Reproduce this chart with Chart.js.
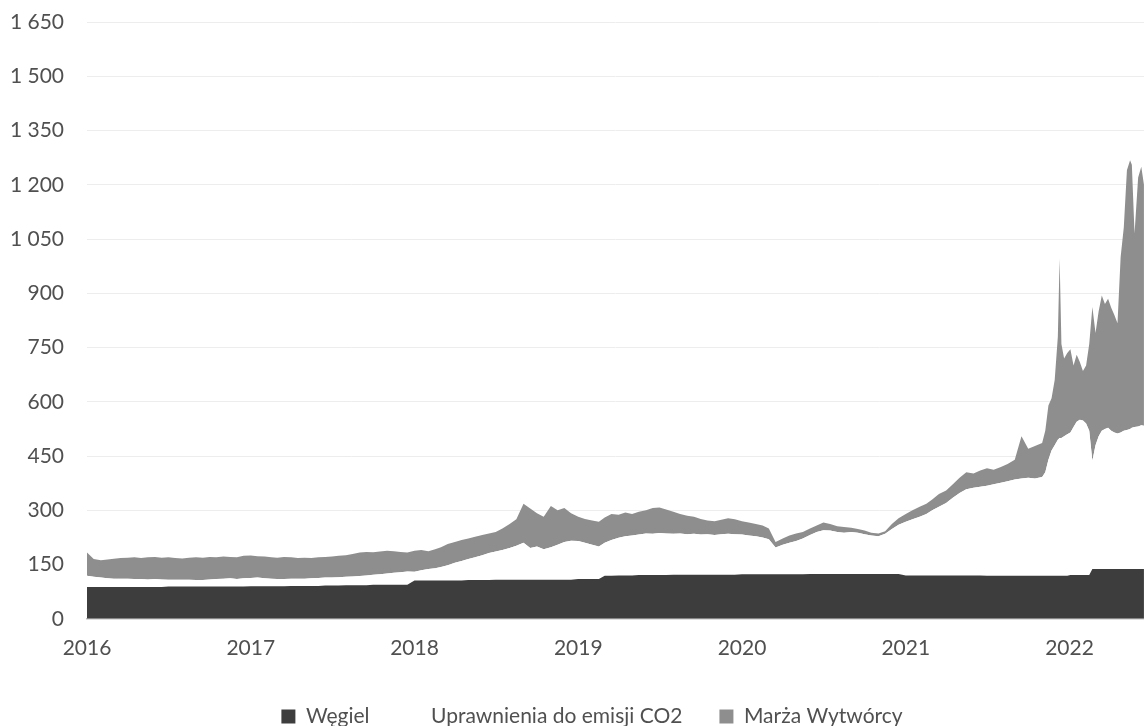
<!DOCTYPE html>
<html lang="pl">
<head>
<meta charset="utf-8">
<title>Składniki ceny energii</title>
<script src="https://cdn.jsdelivr.net/npm/chart.js@4.4.1/dist/chart.umd.min.js"></script>
<style>
  html, body { margin: 0; padding: 0; background: #fff; }
  #wrap { width: 1144px; height: 726px; }
</style>
</head>
<body>
<div id="wrap"><canvas id="chart" width="1144" height="726"></canvas></div>
<script>
// Notowania (co 2 tygodnie, od listopada 2021 co tydzień)
const dates = [
  '2016-01-01','2016-01-16','2016-02-01','2016-02-16','2016-03-01','2016-03-16','2016-04-01','2016-04-16','2016-05-01','2016-05-16','2016-06-01','2016-06-16',
  '2016-07-01','2016-07-16','2016-08-01','2016-08-16','2016-09-01','2016-09-16','2016-10-01','2016-10-16','2016-11-01','2016-11-16','2016-12-01','2016-12-16',
  '2017-01-01','2017-01-16','2017-02-01','2017-02-16','2017-03-01','2017-03-16','2017-04-01','2017-04-16','2017-05-01','2017-05-16','2017-06-01','2017-06-16',
  '2017-07-01','2017-07-16','2017-08-01','2017-08-16','2017-09-01','2017-09-16','2017-10-01','2017-10-16','2017-11-01','2017-11-16','2017-12-01','2017-12-16',
  '2018-01-01','2018-01-16','2018-02-01','2018-02-16','2018-03-01','2018-03-16','2018-04-01','2018-04-16','2018-05-01','2018-05-16','2018-06-01','2018-06-16',
  '2018-07-01','2018-07-16','2018-08-01','2018-08-16','2018-09-01','2018-09-16','2018-10-01','2018-10-16','2018-11-01','2018-11-16','2018-12-01','2018-12-16',
  '2019-01-01','2019-01-16','2019-02-01','2019-02-16','2019-03-01','2019-03-16','2019-04-01','2019-04-16','2019-05-01','2019-05-16','2019-06-01','2019-06-16',
  '2019-07-01','2019-07-16','2019-08-01','2019-08-16','2019-09-01','2019-09-16','2019-10-01','2019-10-16','2019-11-01','2019-11-16','2019-12-01','2019-12-16',
  '2020-01-01','2020-01-16','2020-02-01','2020-02-16','2020-03-01','2020-03-16','2020-04-01','2020-04-16','2020-05-01','2020-05-16','2020-06-01','2020-06-16',
  '2020-07-01','2020-07-16','2020-08-01','2020-08-16','2020-09-01','2020-09-16','2020-10-01','2020-10-16','2020-11-01','2020-11-16','2020-12-01','2020-12-16',
  '2021-01-01','2021-01-16','2021-02-01','2021-02-16','2021-03-01','2021-03-16','2021-04-01','2021-04-16','2021-05-01','2021-05-16','2021-06-01','2021-06-16',
  '2021-07-01','2021-07-16','2021-08-01','2021-08-16','2021-09-01','2021-09-16','2021-10-01','2021-10-16',
  '2021-11-01','2021-11-08','2021-11-15','2021-11-22','2021-11-29','2021-12-06','2021-12-10','2021-12-14','2021-12-20','2021-12-27',
  '2022-01-03','2022-01-10','2022-01-17','2022-01-24','2022-01-31','2022-02-07','2022-02-14',
  '2022-02-21','2022-02-28','2022-03-07','2022-03-14','2022-03-21','2022-03-28','2022-04-04','2022-04-11','2022-04-18','2022-04-25',
  '2022-05-02','2022-05-09','2022-05-16','2022-05-20','2022-05-26','2022-06-03','2022-06-10','2022-06-16'
];

// PLN/MWh
const wegiel = [
  88,88,88,88,88,88,88,88,88,88,88,88, 89,89,89,89,89,89,89,89,89,89,89,89,
  90,90,90,90,90,90,91,91,91,91,91,92, 92,92,93,93,93,93,94,94,94,94,94,94,
  106,106,106,106,106,106,106,106,107,107,107,107, 108,108,108,108,108,108,108,108,108,108,108,108,
  110,110,110,110,119,119,120,120,120,121,121,121, 121,121,122,122,122,122,122,122,122,122,122,122,
  123,123,123,123,123,123,123,123,123,123,124,124, 124,124,124,124,124,124,124,124,124,124,124,124,
  120,120,120,120,120,120,120,120,120,120,120,120, 119,119,119,119,119,119,119,119,
  119,119,119,119,119,119,119,119,119,119,
  121,121,121,121,121,121,121,
  138,138,138,138,138,138,138,138,138,138, 138,138,138,138,138,138,138,138
];

const uprawnienia = [
  31,28,26,24,23,23,23,22,22,21,22,21, 19,19,19,19,18,18,20,21,22,23,21,23,
  23,24,22,21,20,20,20,20,20,21,22,22, 22,23,23,24,25,27,28,29,31,33,35,37,
  24,28,32,34,37,42,49,54,58,63,69,75, 78,82,88,94,102,88,92,84,90,97,104,108,
  105,100,95,90,91,99,104,108,110,112,115,114, 116,115,113,114,112,113,111,112,110,112,113,112,
  110,107,105,102,97,74,82,87,92,99,108,116, 121,120,116,114,116,114,110,106,104,111,124,136,
  148,155,162,170,180,190,200,215,228,238,242,245, 249,253,257,261,266,269,271,269,
  273,286,321,346,361,376,381,381,386,391,
  394,409,424,429,427,419,399,
  299,342,367,382,387,390,382,377,374,377, 382,384,387,390,392,394,397,396
];

const marza = [
  64,49,48,52,55,57,58,60,58,61,61,60, 62,60,59,61,63,62,62,60,61,59,60,62,
  62,59,60,59,59,61,59,57,58,56,57,57, 58,59,60,62,65,65,62,63,63,60,56,52,
  58,56,49,52,55,59,57,58,57,57,56,54, 54,60,66,73,108,109,92,90,114,95,94,76,
  67,66,67,68,70,72,64,66,60,63,64,71, 71,66,61,54,51,47,43,38,38,40,43,41,
  37,36,34,33,30,15,17,20,21,18,18,18, 21,18,16,16,12,10,10,8,8,7,14,18,
  22,25,28,28,30,35,35,37,42,47,40,45, 48,40,44,48,55,117,80,90,
  94,115,150,145,180,285,496,260,215,225,
  230,170,185,160,137,160,240,
  425,310,345,374,345,357,340,325,305,485, 562,718,743,727,535,688,715,666
];

const years = [2016, 2017, 2018, 2019, 2020, 2021, 2022];
const yMax = 1650;
const yStep = 150;

// data -> ułamek roku, żeby oś x była liniowa
function toYear(s) {
  const d = new Date(s + 'T00:00:00Z');
  const y = d.getUTCFullYear();
  const start = Date.UTC(y, 0, 1);
  const end = Date.UTC(y + 1, 0, 1);
  return y + (d.getTime() - start) / (end - start);
}

const xs = dates.map(toYear);
const points = arr => arr.map((v, i) => ({ x: xs[i], y: v }));

// 1650 -> "1 650"
const fmt = v => String(v).replace(/\B(?=(\d{3})+(?!\d))/g, ' ');

const textColor = '#505050';
const font = { family: 'Lato', size: 21 };

// legenda trochę w prawo (środek pod obszarem wykresu, nie pod całym płótnem)
const legendShift = {
  id: 'legendShift',
  afterLayout(chart) {
    if (chart.legend) chart.legend.left = 40;
  }
};

new Chart(document.getElementById('chart'), {
  type: 'line',
  data: {
    datasets: [
      {
        label: 'Węgiel',
        data: points(wegiel),
        backgroundColor: '#3d3d3d',
        borderColor: '#3d3d3d',
        fill: 'origin'
      },
      {
        label: 'Uprawnienia do emisji CO2',
        data: points(uprawnienia),
        backgroundColor: '#ffffff',
        borderColor: '#ffffff',
        fill: '-1'
      },
      {
        label: 'Marża Wytwórcy',
        data: points(marza),
        backgroundColor: '#8e8e8e',
        borderColor: '#8e8e8e',
        fill: '-1'
      }
    ]
  },
  options: {
    responsive: false,
    animation: false,
    layout: { padding: { top: 22, left: 0, right: 0, bottom: -11 } },
    elements: {
      point: { radius: 0 },
      line: { tension: 0, borderWidth: 0 }
    },
    plugins: {
      tooltip: { enabled: false },
      legend: {
        position: 'bottom',
        labels: { font: font, color: textColor, boxWidth: 14, boxHeight: 14, padding: 37 }
      }
    },
    scales: {
      x: {
        type: 'linear',
        min: 2016,
        max: 2022.455,
        z: 1,
        grid: { display: false },
        border: { display: true, color: '#bdbdbd', width: 1.5 },
        ticks: { font: font, color: textColor, padding: 8.5, maxRotation: 0, autoSkip: false, callback: v => String(v) },
        afterBuildTicks: scale => { scale.ticks = years.map(v => ({ value: v })); }
      },
      y: {
        stacked: true,
        min: 0,
        max: yMax,
        // odstęp etykiet robi niewidoczna kreska podziałki (padding dokłada się też u góry)
        grid: { color: '#ededed', drawTicks: true, tickLength: 23, tickColor: 'rgba(0,0,0,0)' },
        border: { display: false },
        ticks: { stepSize: yStep, font: font, color: textColor, padding: 0, callback: v => fmt(v) },
        afterFit: scale => { scale.width = 87; }
      }
    }
  },
  plugins: [legendShift]
});
</script>
</body>
</html>
